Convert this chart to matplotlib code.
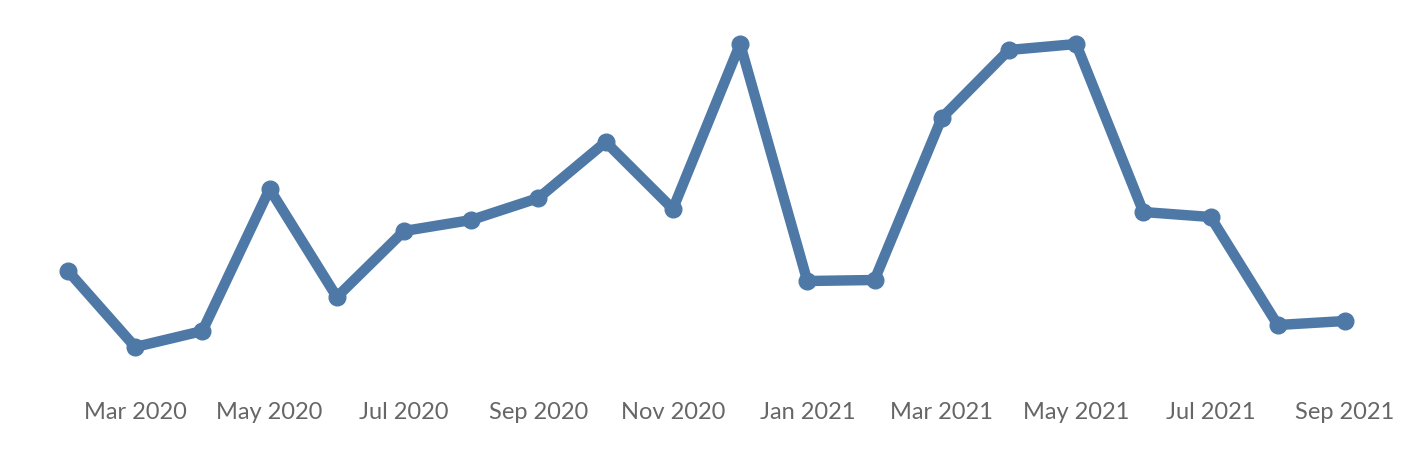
import matplotlib
matplotlib.use("Agg")
import matplotlib.pyplot as plt

months = ["Feb 2020", "Mar 2020", "Apr 2020", "May 2020", "Jun 2020", "Jul 2020",
          "Aug 2020", "Sep 2020", "Oct 2020", "Nov 2020", "Dec 2020", "Jan 2021",
          "Feb 2021", "Mar 2021", "Apr 2021", "May 2021", "Jun 2021", "Jul 2021",
          "Aug 2021", "Sep 2021"]
values = [129, 53, 69, 211, 103, 169, 180, 202, 258, 191, 356, 119,
          120, 282, 350, 356, 188, 183, 75, 79]
tick_labels = ["Mar 2020", "May 2020", "Jul 2020", "Sep 2020", "Nov 2020",
               "Jan 2021", "Mar 2021", "May 2021", "Jul 2021", "Sep 2021"]

W, H = 1406, 462
fig = plt.figure(figsize=(W / 100, H / 100), dpi=100)
ax = fig.add_axes([0, 77 / H, 1, 385 / H])

x = list(range(len(months)))
ax.plot(x, values, color="#4e79a7", lw=7.5, solid_capstyle="round",
        solid_joinstyle="round", marker="o", ms=12, mec="#4e79a7")

step = (1345 - 68) / 19
ax.set_xlim(-68 / step, 19 + (W - 1345) / step)
ax.set_ylim(15, 400)

ticks = [months.index(t) for t in tick_labels]
ax.set_xticks(ticks)
ax.set_xticklabels(tick_labels, fontsize=17, color="#666666",
                   family=["Liberation Sans Narrow", "Lato", "DejaVu Sans"])
ax.tick_params(axis="x", length=0, pad=12)
ax.set_yticks([])
for s in ax.spines.values():
    s.set_visible(False)

fig.savefig("out.png", dpi=100)
